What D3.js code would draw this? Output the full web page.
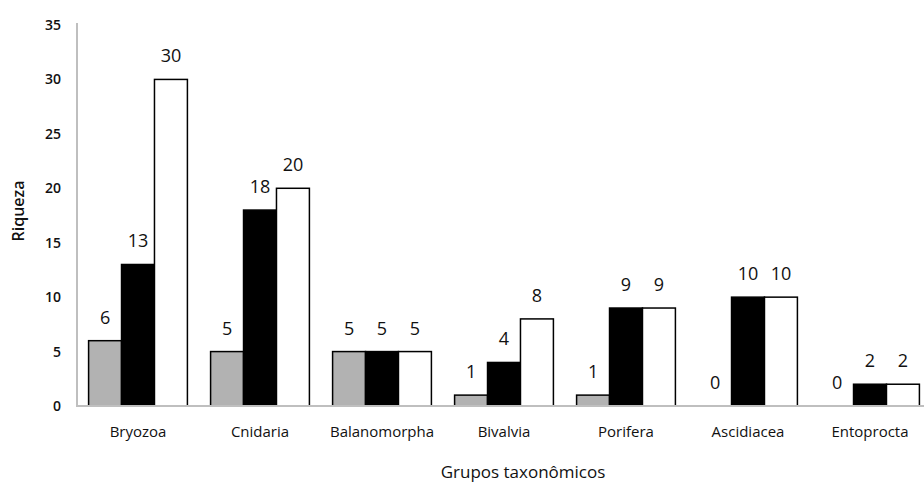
<!DOCTYPE html>
<html><head><meta charset="utf-8">
<script src="https://cdn.jsdelivr.net/npm/d3@7"></script>
<style>body{margin:0;background:#fff;} svg{display:block;} text{font-family:"Open Sans","Noto Sans",sans-serif;}</style>
</head><body>
<svg id="chart" width="924" height="484"></svg>
<script>
const categories = ["Bryozoa","Cnidaria","Balanomorpha","Bivalvia","Porifera","Ascidiacea","Entoprocta"];
const seriesNames = ["s1","s2","s3"];
const seriesGray  = [6,5,5,1,1,0,0];
const seriesBlack = [13,18,5,4,9,10,2];
const seriesWhite = [30,20,5,8,9,10,2];
const yTicks = [0,5,10,15,20,25,30,35];
const fills = ["#b2b2b2","#000000","#ffffff"];
const seriesValues = [seriesGray, seriesBlack, seriesWhite];

const svg = d3.select("#chart");
const x0 = 77, x1 = 931, yBase = 406, yTop = 25;
const x = d3.scaleBand().domain(categories).range([x0, x1]).paddingInner(0.19).paddingOuter(0.095);
const xs = d3.scaleBand().domain(seriesNames).range([0, x.bandwidth()]);
const y = d3.scaleLinear().domain([0,35]).range([yBase, yTop]);

// axes
const yAxis = svg.append("g").attr("transform", `translate(${x0},0)`)
  .call(d3.axisLeft(y).tickValues(yTicks).tickSize(0).tickPadding(16));
yAxis.select(".domain").remove();
yAxis.selectAll("text").attr("font-size", 14).attr("fill", "#111").attr("font-weight", 600)
  .attr("font-family", "'Open Sans', sans-serif");
svg.append("line").attr("x1", x0).attr("x2", x0).attr("y1", y(35) - 2).attr("y2", yBase + 1)
  .attr("stroke", "#bfbfbf").attr("stroke-width", 2);

const groups = svg.append("g").selectAll("g").data(categories).join("g")
  .attr("transform", d => `translate(${x(d)},0)`);

seriesNames.forEach((s, si) => {
  groups.each(function(c, ci) {
    const v = seriesValues[si][ci];
    const g = d3.select(this);
    if (v > 0) {
      g.append("rect").attr("x", xs(s)).attr("y", y(v)).attr("width", xs.bandwidth())
        .attr("height", yBase - y(v)).attr("fill", fills[si]).attr("stroke", "#000").attr("stroke-width", 1.5);
    }
    g.append("text").attr("x", xs(s) + xs.bandwidth()/2).attr("y", y(v) - 17)
      .attr("text-anchor", "middle").attr("font-size", 18).attr("font-weight", 500).attr("fill", "#111").text(v);
  });
});

svg.append("line").attr("x1", x0).attr("x2", x1).attr("y1", yBase).attr("y2", yBase)
  .attr("stroke", "#bfbfbf").attr("stroke-width", 2);

const xAxis = svg.append("g").attr("transform", `translate(0,${yBase})`)
  .call(d3.axisBottom(x).tickSize(0).tickPadding(20));
xAxis.select(".domain").remove();
xAxis.selectAll("text").attr("font-size", 15).attr("fill", "#111").attr("font-family", "'Open Sans', sans-serif");

svg.append("text").attr("x", 523).attr("y", 478).attr("text-anchor", "middle")
  .attr("font-size", 17).attr("fill", "#111").text("Grupos taxonômicos");
svg.append("text").attr("transform", "translate(24,211) rotate(-90)").attr("text-anchor", "middle")
  .attr("font-size", 16).attr("font-weight", 600).attr("fill", "#111").text("Riqueza");
</script>
</body></html>
